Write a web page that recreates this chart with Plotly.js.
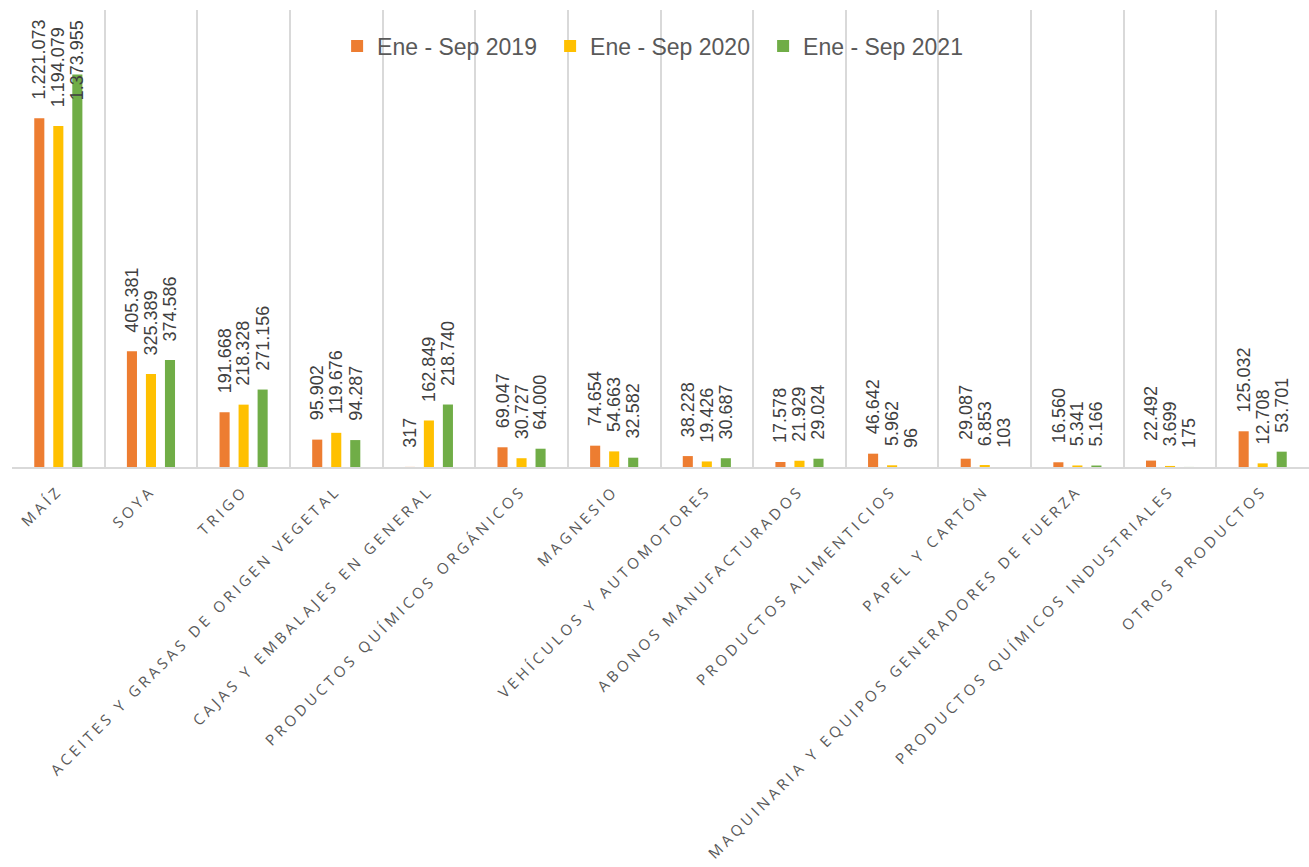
<!DOCTYPE html>
<html>
<head>
<meta charset="utf-8">
<script src="https://cdn.plot.ly/plotly-3.0.1.min.js"></script>
<style>
  html, body { margin: 0; padding: 0; background: #fff; }
  #chart { width: 1309px; height: 867px; }
  .xaxislayer-above .xtick text { letter-spacing: 3.7px; }
</style>
</head>
<body>
<div id="chart"></div>
<script>
const categories = [
  'MAÍZ', 'SOYA', 'TRIGO', 'ACEITES Y GRASAS DE ORIGEN VEGETAL',
  'CAJAS Y EMBALAJES EN GENERAL', 'PRODUCTOS QUÍMICOS ORGÁNICOS', 'MAGNESIO',
  'VEHÍCULOS Y AUTOMOTORES', 'ABONOS MANUFACTURADOS', 'PRODUCTOS ALIMENTICIOS',
  'PAPEL Y CARTÓN', 'MAQUINARIA Y EQUIPOS GENERADORES DE FUERZA',
  'PRODUCTOS QUÍMICOS INDUSTRIALES', 'OTROS PRODUCTOS'
];
const seriesNames = ['Ene - Sep 2019', 'Ene - Sep 2020', 'Ene - Sep 2021'];
const values2019 = [1221073, 405381, 191668, 95902, 317, 69047, 74654, 38228, 17578, 46642, 29087, 16560, 22492, 125032];
const values2020 = [1194079, 325389, 218328, 119676, 162849, 30727, 54663, 19426, 21929, 5962, 6853, 5341, 3699, 12708];
const values2021 = [1373955, 374586, 271156, 94287, 218740, 64000, 32582, 30687, 29024, 96, 103, 5166, 175, 53701];
const colors = ['#ED7D31', '#FFC000', '#70AD47'];

const seriesValues = [values2019, values2020, values2021];

const marginL = 12, marginR = 0, marginT = 10, marginB = 400;
const W = 1309, H = 867;
const yMax = 1600000;
const plotH = H - marginT - marginB;
const bargap = 0.384, bargroupgap = 0.47;
const catWidth = (W - marginL - marginR) / categories.length;
const slot = catWidth * (1 - bargap) / 3;
const labelSize = 18, labelGap = 17, topPad = 8;

function fmt(v) {
  return v.toString().replace(/\B(?=(\d{3})+(?!\d))/g, '.');
}
function labelLen(s) {
  let n = 0;
  for (const c of s) n += (c === '.') ? 0.278 : 0.556;
  return n * labelSize;
}

const traces = seriesValues.map((vals, i) => ({
  type: 'bar',
  name: seriesNames[i],
  x: categories,
  y: vals,
  marker: { color: colors[i] },
  hoverinfo: 'skip'
}));

const annotations = [];
seriesValues.forEach((vals, i) => {
  vals.forEach((v, j) => {
    const txt = fmt(v);
    const barPx = v / yMax * plotH;
    const fits = barPx + labelGap + labelLen(txt) <= plotH - topPad;
    annotations.push({
      x: categories[j], y: fits ? v : yMax, xref: 'x', yref: 'y',
      text: txt, showarrow: false, textangle: -90,
      xanchor: 'center', yanchor: fits ? 'bottom' : 'top',
      xshift: (i - 1) * slot, yshift: fits ? labelGap : -topPad,
      font: { family: 'Liberation Sans, Arial, sans-serif', size: labelSize, color: '#404040' }
    });
  });
});

const layout = {
  width: W, height: H,
  margin: { l: marginL, r: marginR, t: marginT, b: marginB },
  paper_bgcolor: '#ffffff', plot_bgcolor: '#ffffff',
  barmode: 'group', bargap: bargap, bargroupgap: bargroupgap,
  showlegend: true,
  legend: {
    orientation: 'h', x: 0.497, xanchor: 'center', y: 0.921, yanchor: 'middle',
    font: { family: 'Liberation Sans, Arial, sans-serif', size: 23, color: '#595959' },
    bgcolor: 'rgba(0,0,0,0)', traceorder: 'normal', entrywidth: 168
  },
  xaxis: {
    type: 'category', tickson: 'boundaries', showgrid: true,
    gridcolor: '#d9d9d9', gridwidth: 2,
    showline: true, linecolor: '#d9d9d9', linewidth: 2,
    ticks: '', tickangle: -45, ticklabelstandoff: 7,
    tickfont: { family: 'Open Sans, sans-serif', size: 15, color: '#595959' },
    fixedrange: true
  },
  yaxis: {
    range: [0, yMax], visible: false, showgrid: false, zeroline: false, fixedrange: true
  },
  annotations: annotations
};

Plotly.newPlot('chart', traces, layout, { displayModeBar: false, staticPlot: true });
</script>
</body>
</html>
